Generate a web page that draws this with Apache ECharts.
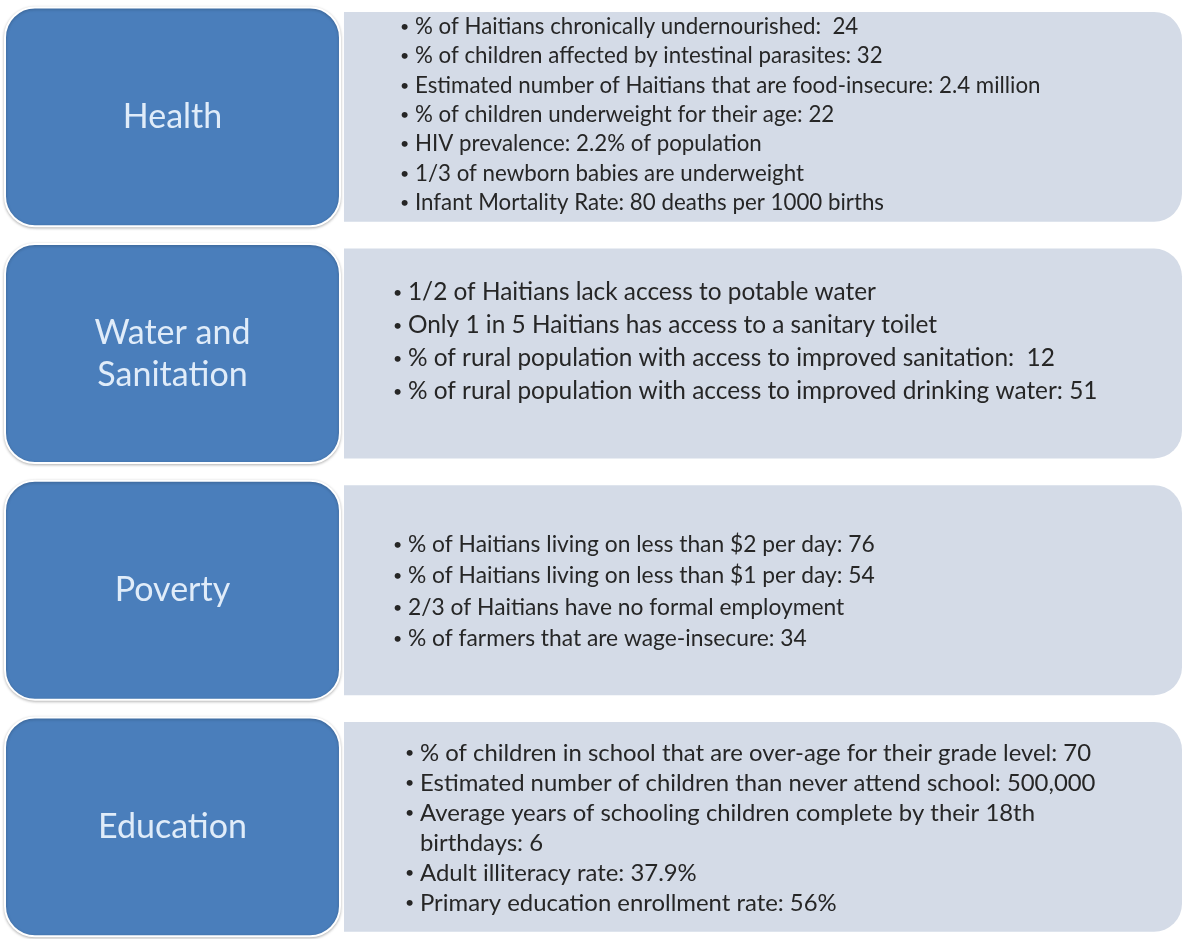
<!DOCTYPE html>
<html>
<head>
<meta charset="utf-8">
<title>Haiti indicators</title>
<script src="https://cdn.jsdelivr.net/npm/echarts@6/dist/echarts.min.js"></script>
<style>
  html, body { margin: 0; padding: 0; background: #ffffff; }
  #chart { width: 1184px; height: 939px; }
</style>
</head>
<body>
<div id="chart"></div>
<script>
// categories (left blue boxes)
var categories = ['Health', 'Water and\nSanitation', 'Poverty', 'Education'];

// bullet texts for each category
var healthItems = [
  '% of Haitians chronically undernourished:  24',
  '% of children affected by intestinal parasites: 32',
  'Estimated number of Haitians that are food-insecure: 2.4 million',
  '% of children underweight for their age: 22',
  'HIV prevalence: 2.2% of population',
  '1/3 of newborn babies are underweight',
  'Infant Mortality Rate: 80 deaths per 1000 births'
];
var waterItems = [
  '1/2 of Haitians lack access to potable water',
  'Only 1 in 5 Haitians has access to a sanitary toilet',
  '% of rural population with access to improved sanitation:  12',
  '% of rural population with access to improved drinking water: 51'
];
var povertyItems = [
  '% of Haitians living on less than $2 per day: 76',
  '% of Haitians living on less than $1 per day: 54',
  '2/3 of Haitians have no formal employment',
  '% of farmers that are wage-insecure: 34'
];
var educationItems = [
  '% of children in school that are over-age for their grade level: 70',
  'Estimated number of children than never attend school: 500,000',
  'Average years of schooling children complete by their 18th\nbirthdays: 6',
  'Adult illiteracy rate: 37.9%',
  'Primary education enrollment rate: 56%'
];
var allItems = [healthItems, waterItems, povertyItems, educationItems];

// per-row text layout (style only)
var rowStyle = [
  { lh: 29.3, dy: -2, bullet: 56, size: 22.3 },
  { lh: 33, dy: -11.5, bullet: 49, size: 24.4 },
  { lh: 31.5, dy: 1.5, bullet: 49, size: 22.8 },
  { lh: 30, dy: 1, bullet: 61, size: 23.9 }
];

var FONT = 'Lato, "Open Sans", sans-serif';

var chart = echarts.init(document.getElementById('chart'));

function renderRow(params, api) {
  var idx = api.value(1);
  var c = api.coord([0, idx]);
  var size = api.size([100, 1]);
  var left = c[0], cy = c[1], W = size[0], band = size[1];

  var blueW = W * 0.2846;
  var blueH = band * 0.925;
  var lightX = left + W * 0.288;
  var lightW = left + W - lightX;
  var lightH = band * 0.887;

  var children = [];
  // light box behind
  children.push({
    type: 'rect',
    shape: { x: lightX, y: cy - lightH / 2, width: lightW, height: lightH, r: [0, 28, 28, 0] },
    style: { fill: '#d4dbe7' }
  });
  // blue box
  children.push({
    type: 'rect',
    shape: { x: left, y: cy - blueH / 2, width: blueW, height: blueH, r: 30 },
    style: {
      fill: '#4a7ebb', stroke: '#ffffff', lineWidth: 2,
      shadowBlur: 3, shadowColor: 'rgba(0,0,0,0.25)', shadowOffsetY: 1
    }
  });
  children.push({
    type: 'text',
    style: {
      text: categories[idx],
      x: left + blueW / 2, y: cy,
      align: 'center', verticalAlign: 'middle',
      fill: '#e0ecf9', font: '34px ' + FONT, lineHeight: 42
    }
  });

  // bullets
  var st = rowStyle[idx];
  var lines = [];
  allItems[idx].forEach(function (item) {
    item.split('\n').forEach(function (part, k) {
      lines.push({ text: part, bullet: k === 0 });
    });
  });
  var n = lines.length;
  var bx = lightX + st.bullet;
  lines.forEach(function (ln, k) {
    var y = cy + st.dy + (k - (n - 1) / 2) * st.lh;
    if (ln.bullet) {
      children.push({
        type: 'text',
        style: { text: '\u2022', x: bx, y: y, align: 'left', verticalAlign: 'middle', fill: '#262626', font: '16px ' + FONT }
      });
    }
    children.push({
      type: 'text',
      style: { text: ln.text, x: bx + 15, y: y, align: 'left', verticalAlign: 'middle', fill: '#262626', font: st.size + 'px ' + FONT }
    });
  });

  return { type: 'group', children: children };
}

var option = {
  animation: false,
  backgroundColor: '#ffffff',
  grid: { left: 5, right: 2, top: 0, bottom: 0 },
  xAxis: { type: 'value', min: 0, max: 100, show: false },
  // row centres land at 117, 354, 591, 827 px
  yAxis: { type: 'value', min: -0.494, max: 3.474, inverse: true, show: false },
  series: [{
    type: 'custom',
    renderItem: renderRow,
    encode: { x: 0, y: 1 },
    data: categories.map(function (c, i) { return [0, i]; })
  }]
};

chart.setOption(option);
</script>
</body>
</html>
